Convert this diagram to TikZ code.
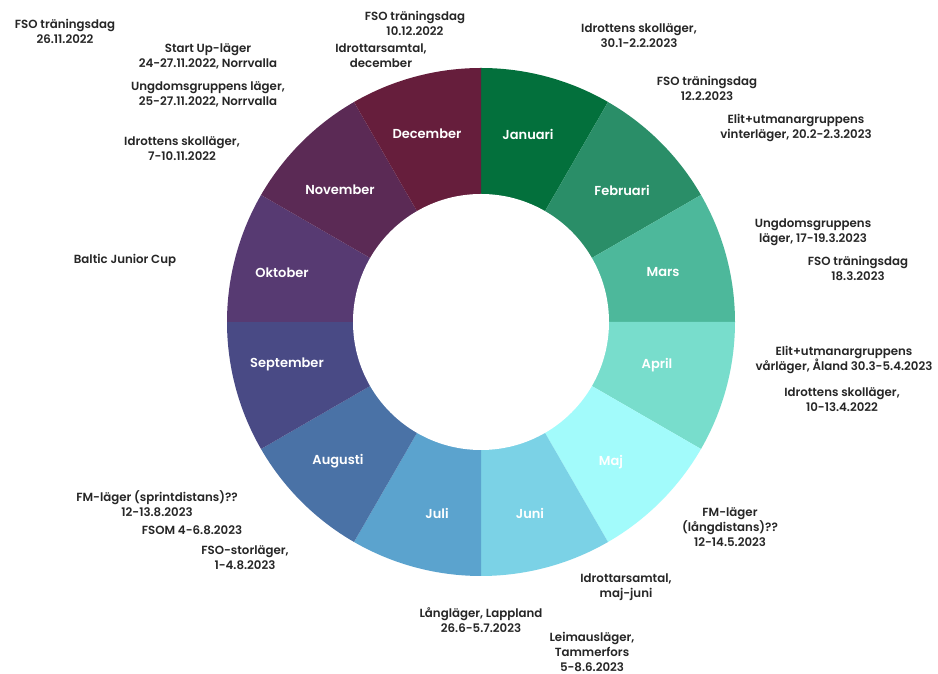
\documentclass[tikz,border=0pt]{standalone}
\usepackage{fontspec}
\setmainfont{Poppins}[UprightFont=* Medium, BoldFont=* SemiBold]
\usetikzlibrary{calc}
\definecolor{cJan}{HTML}{03703C}
\definecolor{cFeb}{HTML}{2A8E68}
\definecolor{cMar}{HTML}{4DB89B}
\definecolor{cApr}{HTML}{78DDCC}
\definecolor{cMaj}{HTML}{A2FBFB}
\definecolor{cJun}{HTML}{7BD2E6}
\definecolor{cJul}{HTML}{5BA3CE}
\definecolor{cAug}{HTML}{4A72A6}
\definecolor{cSep}{HTML}{494A85}
\definecolor{cOkt}{HTML}{573A72}
\definecolor{cNov}{HTML}{5B2A55}
\definecolor{cDec}{HTML}{661E3C}
\definecolor{txt}{HTML}{262626}
\tikzset{
  ev/.style={align=center, text=txt, font=\bfseries\fontsize{11.8}{15}\selectfont, inner sep=0pt},
  month/.style={text=white, font=\bfseries\fontsize{13}{15}\selectfont, inner sep=0pt}
}
\begin{document}
\begin{tikzpicture}[x=1pt,y=1pt]
\useasboundingbox (0,0) rectangle (938,674);
\fill[white] (0,0) rectangle (938,674);
\coordinate (C) at (481,352);
\foreach \i/\c in {0/cJan,1/cFeb,2/cMar,3/cApr,4/cMaj,5/cJun,6/cJul,7/cAug,8/cSep,9/cOkt,10/cNov,11/cDec}{
  \pgfmathsetmacro{\a}{90-30*\i}
  \pgfmathsetmacro{\b}{60-30*\i}
  \fill[\c] (C) -- ($(C)+(\a:254)$) arc[start angle=\a, end angle=\b, radius=254] -- cycle;
}
\fill[white] (C) circle[radius=128];
% month labels
\node[month] (mJan) at (528,540) {Januari};
\node[month] (mFeb) at (622,484) {Februari};
\node[month] (mMar) at (663,402) {Mars};
\node[month] (mApr) at (657,309) {April};
\node[month] (mMaj) at (611,212) {Maj};
\node[month] (mJun) at (530,161) {Juni};
\node[month] (mJul) at (437,161) {Juli};
\node[month] (mAug) at (338,213) {Augusti};
\node[month] (mSep) at (287,310) {September};
\node[month] (mOkt) at (282,401) {Oktober};
\node[month] (mNov) at (340,484) {November};
\node[month] (mDec) at (427,540) {December};
% events
\node[ev] (e1) at (65,643) {FSO träningsdag\\26.11.2022};
\node[ev] (e2) at (208,618) {Start Up-läger\\24-27.11.2022, Norrvalla};
\node[ev] (e3) at (208,580) {Ungdomsgruppens läger,\\25-27.11.2022, Norrvalla};
\node[ev] (e4) at (182,525) {Idrottens skolläger,\\7-10.11.2022};
\node[ev] (e5) at (415,651) {FSO träningsdag\\10.12.2022};
\node[ev] (e6) at (381,618) {Idrottarsamtal,\\december};
\node[ev] (e7) at (639,638) {Idrottens skolläger,\\30.1-2.2.2023};
\node[ev] (e8) at (707,586) {FSO träningsdag\\12.2.2023};
\node[ev] (e9) at (796,546) {Elit+utmanargruppens\\vinterläger, 20.2-2.3.2023};
\node[ev] (e10) at (813,442) {Ungdomsgruppens\\läger, 17-19.3.2023};
\node[ev] (e11) at (858,406) {FSO träningsdag\\18.3.2023};
\node[ev] (e12) at (844,314) {Elit+utmanargruppens\\vårläger, Åland 30.3-5.4.2023};
\node[ev] (e13) at (842,274) {Idrottens skolläger,\\10-13.4.2022};
\node[ev] (e14) at (730,147) {FM-läger\\(långdistans)??\\12-14.5.2023};
\node[ev] (e15) at (626,87) {Idrottarsamtal,\\maj-juni};
\node[ev] (e16) at (481,54) {Långläger, Lappland\\26.6-5.7.2023};
\node[ev] (e17) at (592,22) {Leimausläger,\\Tammerfors\\5-8.6.2023};
\node[ev] (e18) at (125,414) {Baltic Junior Cup};
\node[ev] (e19) at (157,170) {FM-läger (sprintdistans)??\\12-13.8.2023};
\node[ev] (e20) at (192,144) {FSOM 4-6.8.2023};
\node[ev] (e21) at (245,116) {FSO-storläger,\\1-4.8.2023};
\end{tikzpicture}
\end{document}
